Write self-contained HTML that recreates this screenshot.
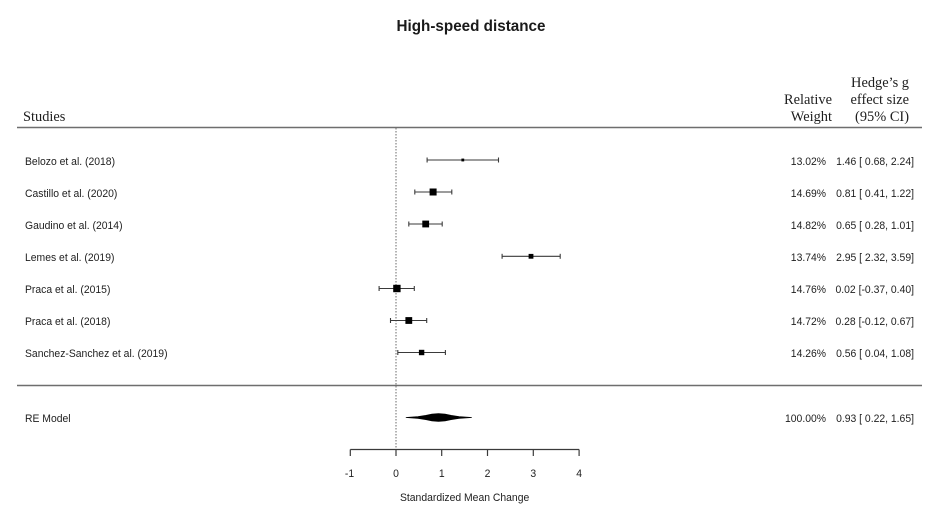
<!DOCTYPE html>
<html>
<head>
<meta charset="utf-8">
<style>
  html, body { margin: 0; padding: 0; background: #ffffff; }
  svg { display: block; }
  .sans { font-family: "Liberation Sans", Arial, sans-serif; font-size: 11px; fill: #1e1e1e; }
  .serif { font-family: "Liberation Serif", "Times New Roman", serif; font-size: 14.4px; fill: #1e1e1e; }
</style>
</head>
<body>
<svg width="940" height="527" viewBox="0 0 940 527" xmlns="http://www.w3.org/2000/svg">
  <rect x="0" y="0" width="940" height="527" fill="#ffffff"/>

  <!-- Title -->
  <text x="471" y="31" text-anchor="middle" font-family="Liberation Sans, Arial, sans-serif" font-weight="bold" font-size="16" fill="#1a1a1a" textLength="149" lengthAdjust="spacingAndGlyphs">High-speed distance</text>

  <!-- Header -->
  <text class="serif" x="23" y="121">Studies</text>
  <text class="serif" x="832" y="104" text-anchor="end">Relative</text>
  <text class="serif" x="832" y="121" text-anchor="end">Weight</text>
  <text class="serif" x="909" y="87" text-anchor="end">Hedge’s g</text>
  <text class="serif" x="909" y="104" text-anchor="end">effect size</text>
  <text class="serif" x="909" y="121" text-anchor="end">(95% CI)</text>

  <!-- Header and separator lines -->
  <line x1="17" y1="127.5" x2="922" y2="127.5" stroke="#6e6e6e" stroke-width="1.6"/>
  <line x1="17" y1="385.5" x2="922" y2="385.5" stroke="#6e6e6e" stroke-width="1.6"/>

  <!-- Reference dotted line at 0 -->
  <line x1="396" y1="128" x2="396" y2="449" stroke="#6a6a6a" stroke-width="1" stroke-dasharray="1.5,1.5"/>

  <!-- Study labels -->
  <g class="sans">
    <text transform="translate(25 165) scale(0.945 1)">Belozo et al. (2018)</text>
    <text transform="translate(25 197) scale(0.945 1)">Castillo et al. (2020)</text>
    <text transform="translate(25 229) scale(0.945 1)">Gaudino et al. (2014)</text>
    <text transform="translate(25 261) scale(0.945 1)">Lemes et al. (2019)</text>
    <text transform="translate(25 293) scale(0.945 1)">Praca et al. (2015)</text>
    <text transform="translate(25 325) scale(0.945 1)">Praca et al. (2018)</text>
    <text transform="translate(25 357) scale(0.945 1)">Sanchez-Sanchez et al. (2019)</text>
    <text transform="translate(25 422) scale(0.945 1)">RE Model</text>
  </g>

  <!-- Weights -->
  <g class="sans" text-anchor="end">
    <text transform="translate(826 165) scale(0.945 1)">13.02%</text>
    <text transform="translate(826 197) scale(0.945 1)">14.69%</text>
    <text transform="translate(826 229) scale(0.945 1)">14.82%</text>
    <text transform="translate(826 261) scale(0.945 1)">13.74%</text>
    <text transform="translate(826 293) scale(0.945 1)">14.76%</text>
    <text transform="translate(826 325) scale(0.945 1)">14.72%</text>
    <text transform="translate(826 357) scale(0.945 1)">14.26%</text>
    <text transform="translate(826 422) scale(0.945 1)">100.00%</text>
  </g>

  <!-- Effect sizes -->
  <g class="sans" text-anchor="end">
    <text transform="translate(914 165) scale(0.945 1)">1.46 [ 0.68, 2.24]</text>
    <text transform="translate(914 197) scale(0.945 1)">0.81 [ 0.41, 1.22]</text>
    <text transform="translate(914 229) scale(0.945 1)">0.65 [ 0.28, 1.01]</text>
    <text transform="translate(914 261) scale(0.945 1)">2.95 [ 2.32, 3.59]</text>
    <text transform="translate(914 293) scale(0.945 1)">0.02 [-0.37, 0.40]</text>
    <text transform="translate(914 325) scale(0.945 1)">0.28 [-0.12, 0.67]</text>
    <text transform="translate(914 357) scale(0.945 1)">0.56 [ 0.04, 1.08]</text>
    <text transform="translate(914 422) scale(0.945 1)">0.93 [ 0.22, 1.65]</text>
  </g>

  <!-- CI whiskers -->
  <g stroke="#3a3a3a" stroke-width="1.1" fill="none">
    <line x1="427.1" y1="160" x2="498.5" y2="160"/>
    <line x1="427.1" y1="157.5" x2="427.1" y2="162.5"/>
    <line x1="498.5" y1="157.5" x2="498.5" y2="162.5"/>
    <line x1="414.8" y1="192" x2="451.8" y2="192"/>
    <line x1="414.8" y1="189.5" x2="414.8" y2="194.5"/>
    <line x1="451.8" y1="189.5" x2="451.8" y2="194.5"/>
    <line x1="408.8" y1="224" x2="442.2" y2="224"/>
    <line x1="408.8" y1="221.5" x2="408.8" y2="226.5"/>
    <line x1="442.2" y1="221.5" x2="442.2" y2="226.5"/>
    <line x1="502.1" y1="256.3" x2="560.2" y2="256.3"/>
    <line x1="502.1" y1="253.8" x2="502.1" y2="258.8"/>
    <line x1="560.2" y1="253.8" x2="560.2" y2="258.8"/>
    <line x1="379.1" y1="288.5" x2="414.3" y2="288.5"/>
    <line x1="379.1" y1="286" x2="379.1" y2="291"/>
    <line x1="414.3" y1="286" x2="414.3" y2="291"/>
    <line x1="390.5" y1="320.5" x2="426.7" y2="320.5"/>
    <line x1="390.5" y1="318" x2="390.5" y2="323"/>
    <line x1="426.7" y1="318" x2="426.7" y2="323"/>
    <line x1="397.8" y1="352.5" x2="445.4" y2="352.5"/>
    <line x1="397.8" y1="350" x2="397.8" y2="355"/>
    <line x1="445.4" y1="350" x2="445.4" y2="355"/>
  </g>

  <!-- Point estimates -->
  <g fill="#000000">
    <rect x="461.4" y="158.6" width="2.8" height="2.8"/>
    <rect x="429.6" y="188.5" width="7" height="7"/>
    <rect x="422.3" y="220.6" width="6.8" height="6.8"/>
    <rect x="528.6" y="253.9" width="4.8" height="4.8"/>
    <rect x="393.2" y="284.8" width="7.4" height="7.4"/>
    <rect x="405.4" y="317.1" width="6.8" height="6.8"/>
    <rect x="418.9" y="349.8" width="5.4" height="5.4"/>
  </g>

  <!-- RE model diamond (lens-like) -->
  <polygon points="406.1,417.5 418,416.6 426,415.4 432,414.2 438.5,413.6 445,414.2 451,415.4 459,416.6 471.5,417.5 459,418.4 451,419.6 445,420.8 438.5,421.4 432,420.8 426,419.6 418,418.4" fill="#000000" stroke="#000000" stroke-width="0.8" stroke-linejoin="round"/>

  <!-- X axis -->
  <g stroke="#3a3a3a" stroke-width="1.2" fill="none">
    <line x1="350.3" y1="449.5" x2="579.1" y2="449.5"/>
    <line x1="350.3" y1="449.5" x2="350.3" y2="456"/>
    <line x1="396" y1="449.5" x2="396" y2="456"/>
    <line x1="441.7" y1="449.5" x2="441.7" y2="456"/>
    <line x1="487.5" y1="449.5" x2="487.5" y2="456"/>
    <line x1="533.3" y1="449.5" x2="533.3" y2="456"/>
    <line x1="579.1" y1="449.5" x2="579.1" y2="456"/>
  </g>
  <g class="sans" text-anchor="middle">
    <text transform="translate(349.5 477) scale(0.945 1)">-1</text>
    <text transform="translate(396 477) scale(0.945 1)">0</text>
    <text transform="translate(441.7 477) scale(0.945 1)">1</text>
    <text transform="translate(487.5 477) scale(0.945 1)">2</text>
    <text transform="translate(533.3 477) scale(0.945 1)">3</text>
    <text transform="translate(579.1 477) scale(0.945 1)">4</text>
    <text transform="translate(464.6 501) scale(0.945 1)">Standardized Mean Change</text>
  </g>
</svg>
</body>
</html>
